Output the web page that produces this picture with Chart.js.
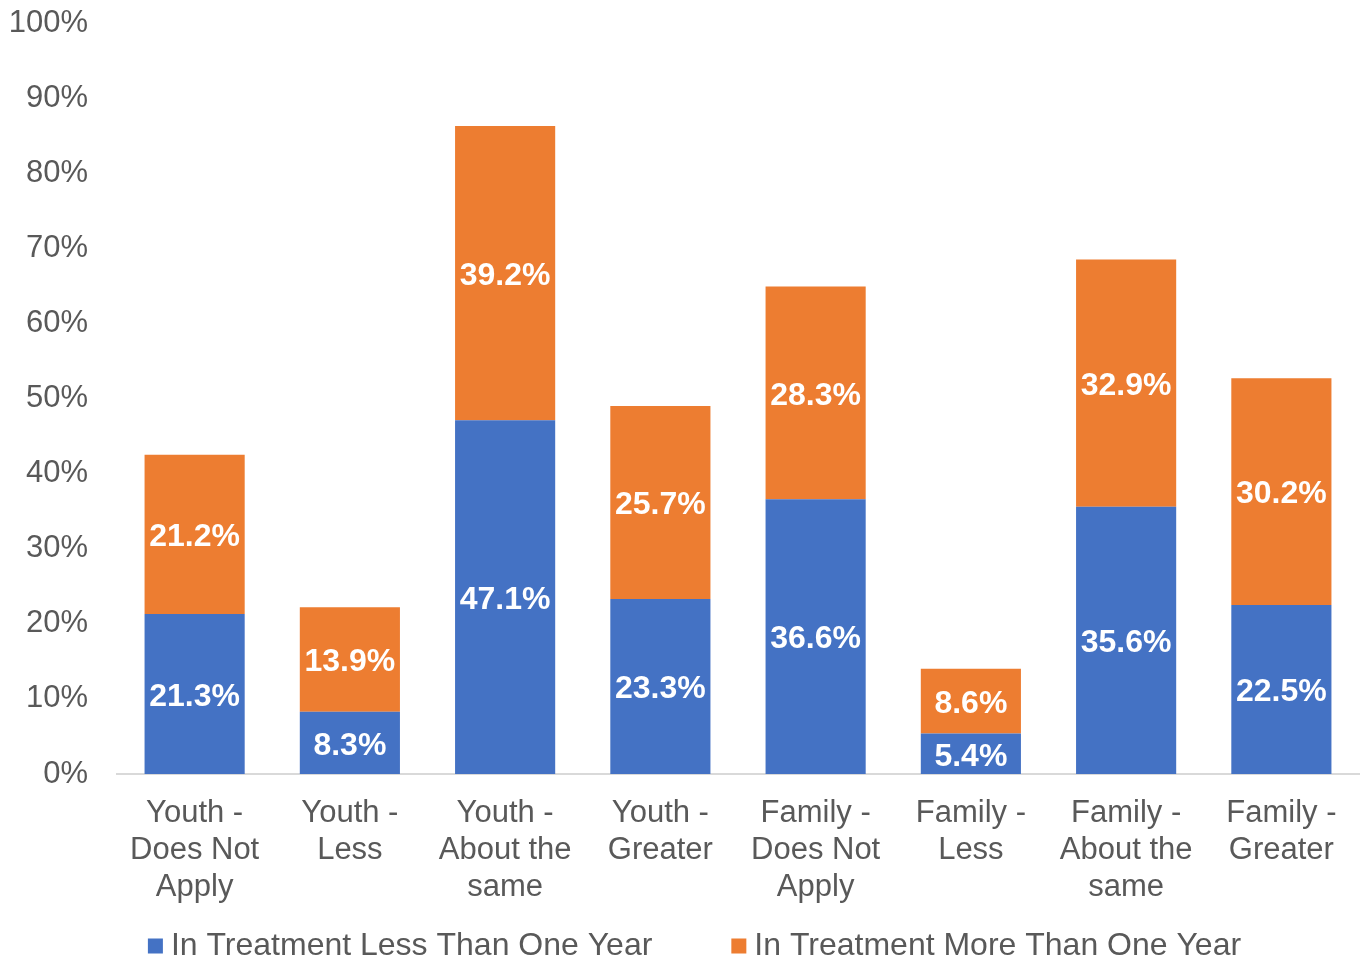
<!DOCTYPE html>
<html>
<head>
<meta charset="utf-8">
<script src="https://cdn.jsdelivr.net/npm/chart.js@4.4.1/dist/chart.umd.min.js"></script>
<style>
  html, body { margin: 0; padding: 0; background: #fff; }
  canvas { display: block; }
</style>
</head>
<body>
<canvas id="chartId" width="1367" height="962"></canvas>
<script>
var categories = [
    ['Youth -', 'Does Not', 'Apply'],
    ['Youth -', 'Less'],
    ['Youth -', 'About the', 'same'],
    ['Youth -', 'Greater'],
    ['Family -', 'Does Not', 'Apply'],
    ['Family -', 'Less'],
    ['Family -', 'About the', 'same'],
    ['Family -', 'Greater']
];
var seriesNames = ['In Treatment Less Than One Year', 'In Treatment More Than One Year'];
var lessThanOneYear = [21.3, 8.3, 47.1, 23.3, 36.6, 5.4, 35.6, 22.5];
var moreThanOneYear = [21.2, 13.9, 39.2, 25.7, 28.3, 8.6, 32.9, 30.2];
var yTicks = [0, 10, 20, 30, 40, 50, 60, 70, 80, 90, 100];

var FONT = '"Liberation Sans", Arial, sans-serif';
var GREY = '#595959';

// white value labels in the middle of every segment
var barLabels = {
    id: 'barLabels',
    afterDatasetsDraw: function(chart) {
        var ctx = chart.ctx;
        ctx.save();
        ctx.font = 'bold 32px ' + FONT;
        ctx.fillStyle = '#ffffff';
        ctx.textAlign = 'center';
        ctx.textBaseline = 'middle';
        chart.data.datasets.forEach(function(ds, i) {
            chart.getDatasetMeta(i).data.forEach(function(bar, j) {
                var y = (bar.y + bar.base) / 2;
                ctx.fillText(ds.data[j].toFixed(1) + '%', bar.x, y + 3);
            });
        });
        ctx.restore();
    }
};

// legend row along the bottom edge
var bottomLegend = {
    id: 'bottomLegend',
    afterDraw: function(chart) {
        var ctx = chart.ctx;
        var box = 15, gap = 8, spacing = 79;
        ctx.save();
        ctx.font = '32px ' + FONT;
        var widths = chart.data.datasets.map(function(ds) {
            return box + gap + ctx.measureText(ds.label).width;
        });
        var total = widths.reduce(function(a, b) { return a + b; }, 0) + spacing * (widths.length - 1);
        var x = (chart.width - total) / 2 + 11;
        var y = 946;
        chart.data.datasets.forEach(function(ds, i) {
            ctx.fillStyle = ds.backgroundColor;
            ctx.fillRect(x, y - box / 2, box, box);
            ctx.fillStyle = GREY;
            ctx.textAlign = 'left';
            ctx.textBaseline = 'middle';
            ctx.fillText(ds.label, x + box + gap, y);
            x += widths[i] + spacing;
        });
        ctx.restore();
    }
};

var chart = new Chart(document.getElementById('chartId').getContext('2d'), {
    type: 'bar',
    data: {
        labels: categories,
        datasets: [{
            label: seriesNames[0],
            data: lessThanOneYear,
            backgroundColor: '#4472C4'
        }, {
            label: seriesNames[1],
            data: moreThanOneYear,
            backgroundColor: '#ED7D31'
        }]
    },
    options: {
        responsive: false,
        animation: false,
        datasets: {
            bar: { barPercentage: 0.645, categoryPercentage: 1 }
        },
        layout: {
            padding: { left: 0, right: 8, top: 23, bottom: 57 }
        },
        plugins: {
            legend: { display: false },
            tooltip: { enabled: false }
        },
        scales: {
            x: {
                stacked: true,
                grid: { display: false },
                border: { display: true, color: '#D9D9D9', width: 2 },
                ticks: {
                    color: GREY,
                    font: { family: FONT, size: 31, lineHeight: 1.19 },
                    padding: 13,
                    maxRotation: 0,
                    autoSkip: false
                },
                afterFit: function(scale) { scale.height = 131; }
            },
            y: {
                stacked: true,
                min: 0,
                max: 100,
                afterBuildTicks: function(scale) {
                    scale.ticks = yTicks.map(function(v) { return { value: v }; });
                },
                grid: { display: false, drawTicks: false },
                border: { display: false },
                ticks: {
                    color: GREY,
                    font: { family: FONT, size: 31 },
                    padding: 29,
                    callback: function(v) { return v + '%'; }
                },
                afterFit: function(scale) {
                    scale.width = 117;
                    scale.paddingTop = 0;
                    scale.paddingBottom = 0;
                }
            }
        }
    },
    plugins: [barLabels, bottomLegend]
});
</script>
</body>
</html>
